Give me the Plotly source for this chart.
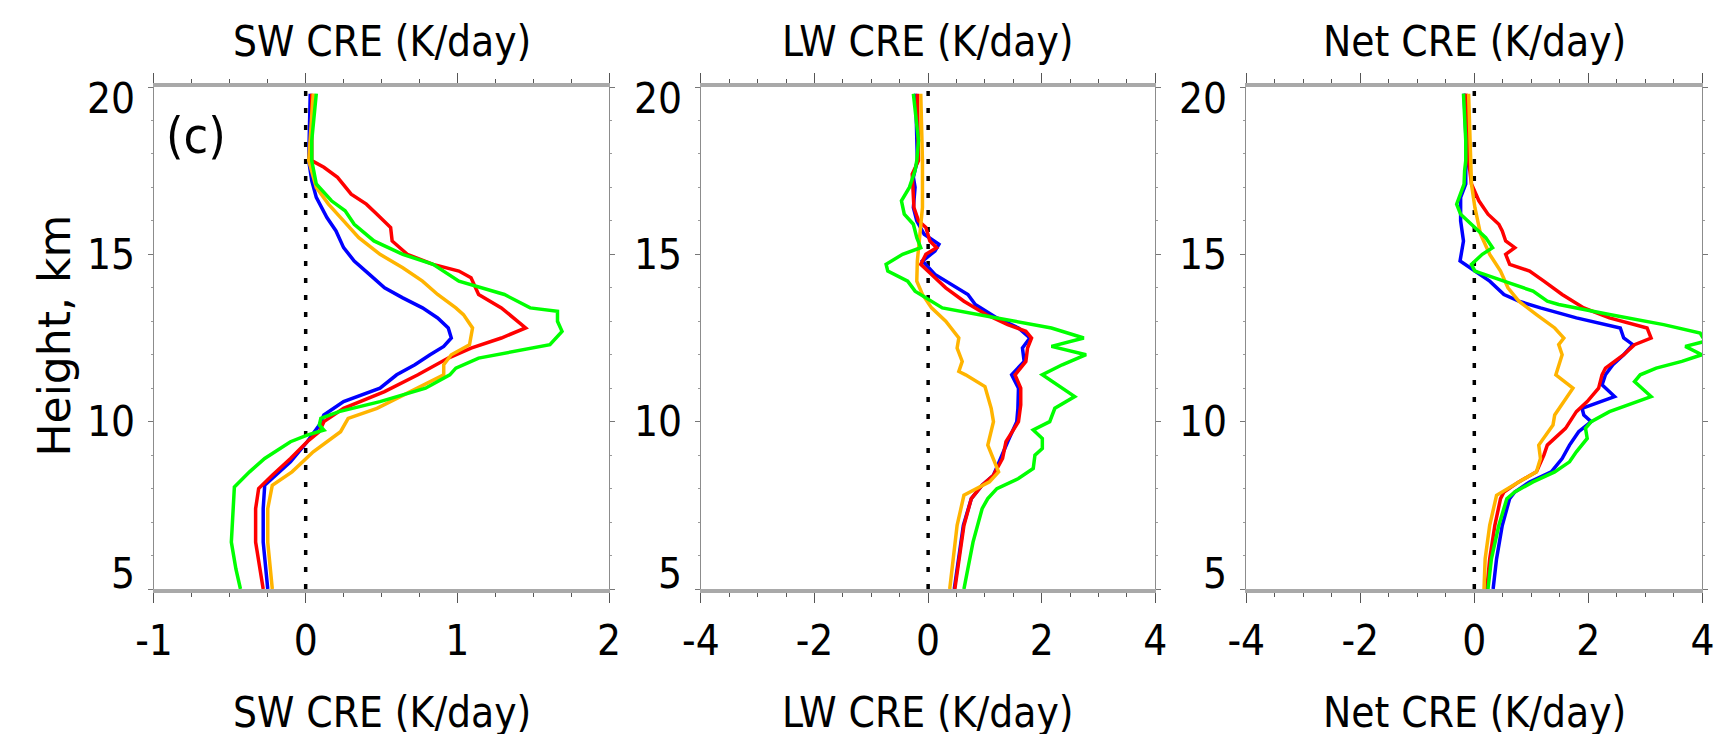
import plotly.graph_objects as go

# ---------------- data ----------------
# SW CRE (K/day)
sw_blue_h = [19.8, 17.8, 17.2, 16.7, 16.1, 15.7, 15.2, 14.8, 14.4, 14.0, 13.7, 13.4, 13.1, 12.8, 12.5, 12.25, 12.0, 11.7, 11.4, 11.0, 10.6, 10.2, 9.9, 9.4, 8.8, 8.4, 8.1, 7.4, 6.4, 5.0]
sw_blue_x = [0.03, 0.02, 0.04, 0.07, 0.14, 0.20, 0.25, 0.32, 0.42, 0.52, 0.64, 0.77, 0.87, 0.94, 0.96, 0.91, 0.82, 0.72, 0.60, 0.49, 0.25, 0.12, 0.09, 0.01, -0.10, -0.20, -0.27, -0.28, -0.28, -0.25]
sw_red_h = [19.8, 17.8, 17.6, 17.3, 16.8, 16.5, 16.2, 15.8, 15.4, 15.0, 14.7, 14.5, 14.3, 13.8, 13.4, 12.8, 12.5, 12.2, 11.9, 11.4, 10.9, 10.4, 10.0, 9.7, 9.4, 8.9, 8.4, 8.0, 7.4, 6.4, 5.0]
sw_red_x = [0.04, 0.04, 0.12, 0.21, 0.30, 0.40, 0.47, 0.56, 0.57, 0.67, 0.84, 1.01, 1.09, 1.14, 1.29, 1.45, 1.29, 1.09, 0.94, 0.74, 0.52, 0.25, 0.12, 0.09, 0.01, -0.10, -0.22, -0.31, -0.33, -0.33, -0.28]
sw_orange_h = [19.8, 17.8, 17.0, 16.5, 16.0, 15.5, 15.0, 14.6, 14.2, 13.8, 13.4, 13.2, 12.8, 12.3, 12.0, 11.7, 11.4, 10.9, 10.4, 10.1, 9.7, 9.1, 8.5, 8.1, 7.4, 6.4, 5.0]
sw_orange_x = [0.05, 0.02, 0.07, 0.15, 0.25, 0.35, 0.49, 0.64, 0.77, 0.87, 0.99, 1.04, 1.10, 1.08, 0.96, 0.91, 0.91, 0.69, 0.47, 0.28, 0.23, 0.05, -0.09, -0.22, -0.25, -0.25, -0.22]
sw_green_h = [19.8, 18.4, 17.8, 17.1, 16.6, 16.3, 15.9, 15.4, 15.0, 14.7, 14.2, 13.8, 13.4, 13.3, 13.0, 12.7, 12.3, 12.1, 11.9, 11.6, 11.4, 11.0, 10.6, 10.3, 10.1, 9.9, 9.75, 9.6, 9.4, 8.9, 8.5, 8.05, 7.4, 6.4, 5.6, 5.0]
sw_green_x = [0.07, 0.04, 0.04, 0.07, 0.17, 0.26, 0.32, 0.45, 0.64, 0.84, 1.01, 1.31, 1.48, 1.66, 1.66, 1.69, 1.61, 1.38, 1.14, 0.99, 0.95, 0.79, 0.49, 0.22, 0.10, 0.09, 0.12, 0.01, -0.10, -0.27, -0.37, -0.47, -0.48, -0.49, -0.46, -0.43]

# LW CRE (K/day)
lw_blue_h = [19.8, 17.8, 17.3, 17.0, 16.4, 16.0, 15.6, 15.3, 15.1, 14.8, 14.4, 13.8, 13.5, 13.1, 12.8, 12.5, 12.2, 11.8, 11.4, 11.0, 10.4, 10.0, 9.4, 8.9, 8.4, 8.1, 7.7, 6.9, 5.0]
lw_blue_x = [-0.22, -0.19, -0.26, -0.23, -0.26, -0.20, -0.07, 0.19, 0.12, -0.10, 0.12, 0.70, 0.83, 1.21, 1.59, 1.79, 1.66, 1.69, 1.47, 1.59, 1.58, 1.56, 1.40, 1.27, 1.15, 0.95, 0.76, 0.62, 0.46]
lw_red_h = [19.8, 17.8, 17.4, 16.9, 16.4, 16.0, 15.8, 15.4, 15.2, 15.0, 14.7, 14.4, 14.0, 13.6, 13.2, 12.9, 12.7, 12.5, 12.2, 11.8, 11.4, 11.0, 10.5, 10.0, 9.4, 8.9, 8.4, 8.1, 7.7, 6.9, 5.9, 5.0]
lw_red_x = [-0.19, -0.17, -0.28, -0.26, -0.25, -0.17, -0.04, 0.03, 0.15, -0.04, -0.13, 0.06, 0.31, 0.63, 1.02, 1.40, 1.72, 1.82, 1.75, 1.72, 1.53, 1.63, 1.63, 1.59, 1.37, 1.31, 1.15, 0.95, 0.76, 0.63, 0.54, 0.47]
lw_orange_h = [19.8, 17.8, 16.4, 15.4, 14.8, 14.2, 13.8, 13.4, 13.0, 12.5, 12.2, 11.8, 11.5, 11.4, 11.05, 10.4, 10.0, 9.3, 8.9, 8.5, 8.2, 7.8, 6.9, 5.0]
lw_orange_x = [-0.13, -0.10, -0.10, -0.15, -0.19, -0.20, -0.10, 0.06, 0.31, 0.54, 0.51, 0.60, 0.54, 0.66, 1.00, 1.11, 1.15, 1.05, 1.15, 1.24, 1.08, 0.63, 0.51, 0.38]
lw_green_h = [19.8, 18.4, 17.8, 17.5, 17.0, 16.6, 16.2, 15.9, 15.5, 15.2, 15.0, 14.7, 14.5, 14.2, 13.9, 13.6, 13.4, 13.1, 12.8, 12.5, 12.25, 12.0, 11.7, 11.4, 10.75, 10.4, 10.0, 9.75, 9.5, 9.2, 9.0, 8.6, 8.3, 8.0, 7.7, 7.4, 6.4, 5.0]
lw_green_x = [-0.26, -0.17, -0.20, -0.23, -0.33, -0.47, -0.42, -0.26, -0.20, -0.13, -0.45, -0.74, -0.71, -0.36, -0.23, 0.06, 0.25, 1.21, 2.17, 2.74, 2.17, 2.78, 2.36, 2.01, 2.58, 2.23, 2.14, 1.85, 2.01, 2.01, 1.88, 1.85, 1.59, 1.21, 1.05, 0.95, 0.79, 0.63]

# Net CRE (K/day)
net_blue_h = [19.8, 17.8, 17.5, 17.1, 16.7, 16.0, 15.4, 14.8, 14.5, 14.2, 13.8, 13.6, 13.4, 13.1, 12.8, 12.5, 12.3, 12.0, 11.7, 11.4, 11.1, 10.75, 10.4, 10.2, 10.0, 9.7, 9.3, 8.9, 8.5, 8.2, 7.9, 7.7, 6.9, 5.9, 5.0]
net_blue_x = [-0.18, -0.13, -0.15, -0.15, -0.24, -0.24, -0.19, -0.25, 0.01, 0.27, 0.52, 0.78, 1.16, 1.79, 2.56, 2.62, 2.78, 2.62, 2.43, 2.30, 2.24, 2.46, 1.89, 1.92, 2.05, 1.83, 1.67, 1.54, 1.35, 0.97, 0.71, 0.62, 0.49, 0.39, 0.33]
net_red_h = [19.8, 17.8, 17.1, 16.6, 16.2, 15.9, 15.7, 15.4, 15.2, 15.0, 14.7, 14.5, 14.2, 13.8, 13.4, 13.1, 12.8, 12.5, 12.3, 12.0, 11.6, 11.4, 11.0, 10.6, 10.3, 9.8, 9.3, 9.0, 8.5, 8.2, 7.9, 7.7, 6.9, 5.9, 5.0]
net_red_x = [-0.15, -0.10, -0.05, 0.08, 0.24, 0.43, 0.49, 0.55, 0.71, 0.55, 0.62, 0.97, 1.22, 1.54, 1.92, 2.37, 3.03, 3.10, 2.81, 2.62, 2.30, 2.24, 2.18, 1.98, 1.79, 1.60, 1.28, 1.22, 1.09, 0.78, 0.52, 0.46, 0.36, 0.27, 0.22]
net_orange_h = [19.8, 17.8, 17.1, 16.4, 15.6, 15.0, 14.5, 14.0, 13.6, 13.2, 12.8, 12.5, 12.3, 12.0, 11.7, 11.4, 11.0, 10.6, 10.2, 9.9, 9.3, 8.9, 8.5, 8.2, 7.8, 6.9, 5.9, 5.0]
net_orange_x = [-0.10, -0.06, -0.05, 0.01, 0.11, 0.27, 0.46, 0.59, 0.78, 1.09, 1.41, 1.57, 1.48, 1.54, 1.48, 1.43, 1.73, 1.57, 1.41, 1.38, 1.13, 1.16, 1.09, 0.78, 0.39, 0.27, 0.19, 0.17]
net_green_h = [19.8, 18.4, 17.8, 17.5, 17.1, 16.5, 16.2, 15.8, 15.5, 15.2, 15.0, 14.7, 14.5, 14.2, 13.9, 13.6, 13.5, 13.2, 12.9, 12.65, 12.4, 12.25, 12.0, 11.8, 11.6, 11.4, 11.2, 10.75, 10.5, 10.3, 10.0, 9.8, 9.5, 9.1, 8.8, 8.5, 8.2, 7.9, 7.7, 6.9, 5.9, 5.0]
net_green_x = [-0.19, -0.15, -0.15, -0.17, -0.18, -0.31, -0.24, 0.01, 0.20, 0.32, 0.14, -0.05, 0.01, 0.52, 1.03, 1.28, 1.48, 2.37, 3.32, 3.96, 4.05, 3.70, 3.99, 3.64, 3.19, 2.91, 2.81, 3.10, 2.68, 2.37, 2.05, 1.95, 1.98, 1.79, 1.67, 1.41, 1.03, 0.71, 0.57, 0.43, 0.30, 0.24]

panel_titles = ["SW CRE (K/day)", "LW CRE (K/day)", "Net CRE (K/day)"]
x_ranges = [[-1, 2], [-4, 4], [-4, 4]]
x_tick_vals = [[-1, 0, 1, 2], [-4, -2, 0, 2, 4], [-4, -2, 0, 2, 4]]
x_tick_text = [["-1", "0", "1", "2"], ["-4", "-2", "0", "2", "4"], ["-4", "-2", "0", "2", "4"]]
x_minor_step = [0.25, 0.5, 0.5]
y_range = [5, 20]
y_tick_vals = [5, 10, 15, 20]
y_tick_text = ["5", "10", "15", "20"]
y_title = "Height, km"
panel_label = "(c)"

series_names = ["blue", "red", "orange", "green"]
series_colors = {"blue": "#0000ff", "red": "#ff0000", "orange": "#ffb400", "green": "#00ff00"}
panel_data = [
    {"blue": (sw_blue_x, sw_blue_h), "red": (sw_red_x, sw_red_h), "orange": (sw_orange_x, sw_orange_h), "green": (sw_green_x, sw_green_h)},
    {"blue": (lw_blue_x, lw_blue_h), "red": (lw_red_x, lw_red_h), "orange": (lw_orange_x, lw_orange_h), "green": (lw_green_x, lw_green_h)},
    {"blue": (net_blue_x, net_blue_h), "red": (net_red_x, net_red_h), "orange": (net_orange_x, net_orange_h), "green": (net_green_x, net_green_h)},
]

# ---------------- layout geometry ----------------
W, H = 1728, 734
x_domains_px = [(129.3, 592.7), (686.2, 1149.0), (1241.5, 1706.0)]
y_domain_px = (79.0, 581.0)  # top, bottom

NARROW = "Liberation Sans Narrow, Arial Narrow, DejaVu Sans Condensed, Liberation Sans, Arial, sans-serif"
TXT = dict(family=NARROW, size=42, color="black")

fig = go.Figure()
layout = dict(
    width=W, height=H, autosize=False,
    margin=dict(l=0, r=0, t=0, b=0),
    paper_bgcolor="white", plot_bgcolor="white",
    showlegend=False,
    annotations=[],
)

ydom = [1 - y_domain_px[1] / H, 1 - y_domain_px[0] / H]

for i in range(3):
    n = "" if i == 0 else str(i + 1)
    xa, ya = "x" + n, "y" + n
    # zero reference line
    fig.add_trace(go.Scatter(x=[0, 0], y=y_range, mode="lines", xaxis=xa, yaxis=ya,
                             line=dict(color="black", width=3.5, dash="5px,12px"), hoverinfo="skip"))
    for s in series_names:
        xv, hv = panel_data[i][s]
        fig.add_trace(go.Scatter(x=xv, y=hv, mode="lines", xaxis=xa, yaxis=ya, name=s,
                                 line=dict(color=series_colors[s], width=3.5)))
    x0, x1 = x_domains_px[i]
    layout["xaxis" + n] = dict(
        domain=[x0 / W, x1 / W], range=x_ranges[i], anchor=ya,
        showline=True, linecolor="#a9a9a9", linewidth=4, mirror="allticks",
        ticks="outside", ticklen=10, tickwidth=1.2, tickcolor="#555555",
        tickvals=x_tick_vals[i], ticktext=x_tick_text[i],
        tickfont=TXT, ticklabelstandoff=2,
        showgrid=False, zeroline=False, fixedrange=True,
        minor=dict(dtick=x_minor_step[i], tick0=0, ticks="outside", ticklen=4,
                   tickwidth=1.2, tickcolor="#555555", showgrid=False),
    )
    layout["yaxis" + n] = dict(
        domain=ydom, range=y_range, anchor=xa,
        showline=True, linecolor="#8c8c8c", linewidth=1, mirror="allticks",
        ticks="outside", ticklen=5, tickwidth=1, tickcolor="#777777",
        tickvals=y_tick_vals, showticklabels=False,
        showgrid=False, zeroline=False, fixedrange=True,
        minor=dict(dtick=1, ticks="outside", ticklen=2, tickwidth=1, tickcolor="#999999", showgrid=False),
    )
    cx = (x0 + x1) / 2 / W
    # top title
    layout["annotations"].append(dict(text=panel_titles[i], xref="paper", yref="paper", x=cx, y=1 - 33.5 / H,
                                      xanchor="center", yanchor="middle", showarrow=False, font=TXT))
    # bottom title
    layout["annotations"].append(dict(text=panel_titles[i], xref="paper", yref="paper", x=cx, y=1 - 704 / H,
                                      xanchor="center", yanchor="middle", showarrow=False, font=TXT))
    # y tick labels
    for v, t in zip(y_tick_vals, y_tick_text):
        shift = 0
        if v == max(y_tick_vals):
            shift = -12
        elif v == min(y_tick_vals):
            shift = 16
        layout["annotations"].append(dict(text=t, xref=xa + " domain", yref=ya, x=0, y=v,
                                          xanchor="right", yanchor="middle", xshift=-17, yshift=shift,
                                          showarrow=False, font=TXT))

# panel label
layout["annotations"].append(dict(text=panel_label, xref="x domain", yref="y domain", x=0.092, y=0.902,
                                  xanchor="center", yanchor="middle", showarrow=False,
                                  font=dict(family=NARROW, size=50, color="black")))
# y axis title
layout["annotations"].append(dict(text=y_title, xref="paper", yref="paper", x=27.5 / W, y=1 - 327.5 / H,
                                  xanchor="center", yanchor="middle", textangle=-90, showarrow=False,
                                  font=dict(family="DejaVu Sans, Liberation Sans, sans-serif", size=44, color="black")))

fig.update_layout(**layout)
fig.write_html("out.html")
